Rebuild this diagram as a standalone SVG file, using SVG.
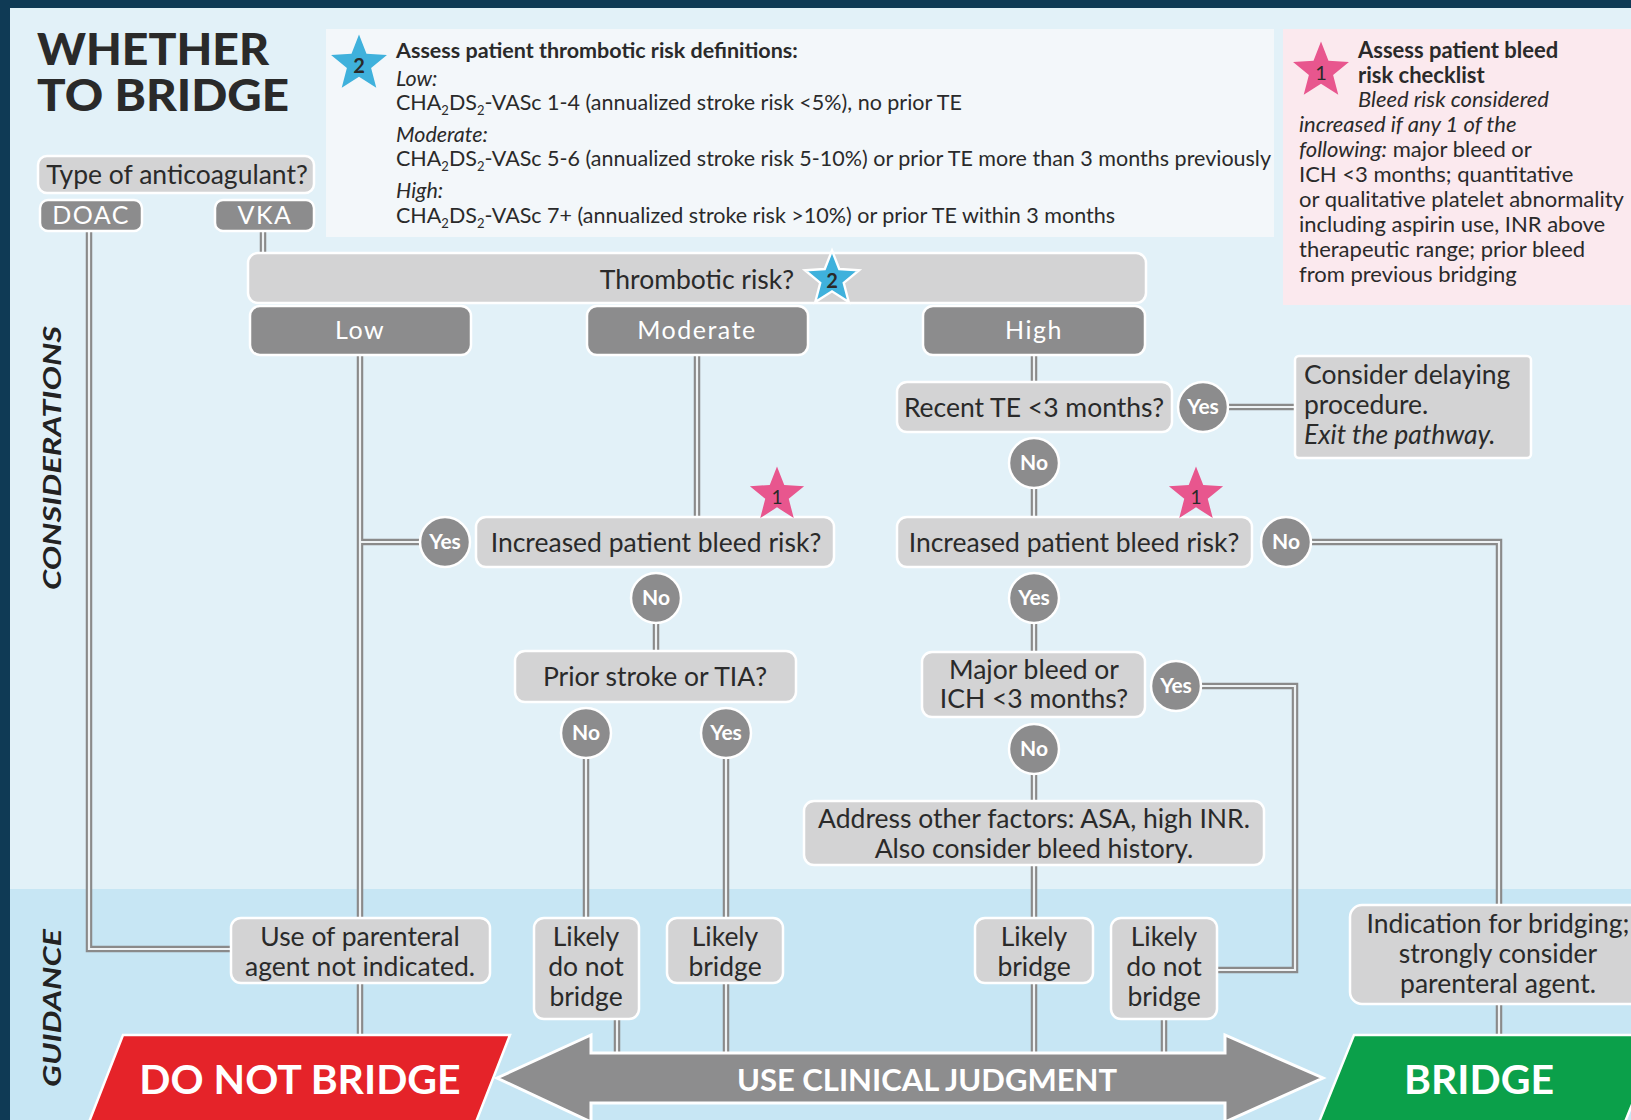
<svg xmlns="http://www.w3.org/2000/svg" xmlns:xlink="http://www.w3.org/1999/xlink" width="1631" height="1120" viewBox="0 0 1631 1120">
<style>
text{font-family:Lato,"Open Sans","Liberation Sans",sans-serif;fill:#2a2a2a}
.q{fill:#d3d3d4;stroke:#fff;stroke-width:2.5}
.d{fill:#8c8c8d;stroke:#fff;stroke-width:2.5}
.g{fill:#d3d3d4;stroke:#fff;stroke-width:2.5}
.t{font-size:26.5px;text-anchor:middle}
.w{font-size:25px;text-anchor:middle;fill:#fff;letter-spacing:1.5px}
.c{fill:#8c8c8d;stroke:#fff;stroke-width:2.5}
.ct{font-size:21px;font-weight:bold;text-anchor:middle;fill:#fff}
.co{fill:none;stroke:#8a8a8a;stroke-width:6.5}
.ci{fill:none;stroke:#eef2f4;stroke-width:2.2}
.info{font-size:21.5px}
.pk{font-size:22px}
.sec{font-size:24px;font-weight:bold;font-style:italic;text-anchor:middle;fill:#222}
.big{font-weight:bold;fill:#fff;text-anchor:middle}
</style>
<defs>
<path id="star" d="M0,-30 L7.64,-10.52 L28.53,-9.27 L12.36,4.02 L17.63,24.27 L0,13 L-17.63,24.27 L-12.36,4.02 L-28.53,-9.27 L-7.64,-10.52 Z"/>
<path id="p1" d="M89,230 V949 H231"/>
<path id="p2" d="M263,230 V253"/>
<path id="p3" d="M360,355 V918"/>
<path id="p4" d="M360,542 H420"/>
<path id="p5" d="M697,355 V517"/>
<path id="p6" d="M656,622 V651"/>
<path id="p7" d="M586,757 V918"/>
<path id="p8" d="M726,757 V918"/>
<path id="p9" d="M617,1019 V1053"/>
<path id="p10" d="M726,983 V1053"/>
<path id="p11" d="M360,983 V1035"/>
<path id="p12" d="M1034,355 V382"/>
<path id="p13" d="M1228,407 H1295"/>
<path id="p14" d="M1034,488 V517"/>
<path id="p15" d="M1034,623 V652"/>
<path id="p16" d="M1034,774 V801"/>
<path id="p17" d="M1034,865 V918"/>
<path id="p18" d="M1034,983 V1053"/>
<path id="p19" d="M1201,686 H1295 V970 H1217"/>
<path id="p20" d="M1164,1019 V1053"/>
<path id="p21" d="M1311,542 H1499 V905"/>
<path id="p22" d="M1499,1004 V1035"/>
</defs>

<!-- background -->
<rect x="0" y="0" width="1631" height="1120" fill="#0f3a55"/>
<rect x="10" y="8" width="1621" height="881" fill="#e2f1f8"/>
<rect x="10" y="889" width="1621" height="231" fill="#c7e6f4"/>

<!-- title and section labels -->
<g id="title">
<text x="37" y="65" font-size="43" font-weight="900" fill="#1e1e1e" textLength="232" lengthAdjust="spacingAndGlyphs">WHETHER</text>
<text x="37" y="111" font-size="43" font-weight="900" fill="#1e1e1e" textLength="252" lengthAdjust="spacingAndGlyphs">TO BRIDGE</text>
</g>
<g id="label-considerations"><text class="sec" transform="translate(61,458) rotate(-90)" textLength="264" lengthAdjust="spacingAndGlyphs">CONSIDERATIONS</text></g>
<g id="label-guidance"><text class="sec" transform="translate(61,1008) rotate(-90)" textLength="158" lengthAdjust="spacingAndGlyphs">GUIDANCE</text></g>

<!-- info box: thrombotic risk definitions -->
<g id="info-thrombotic">
<rect x="326" y="29" width="948" height="208" fill="#f3f7fa"/>
<use href="#star" transform="translate(359,64) scale(0.98)" fill="#3fb1dc"/>
<text x="359" y="73" font-size="20" font-weight="bold" text-anchor="middle" fill="#1a1a1a">2</text>
<text class="info" x="396" y="58" font-weight="bold" font-size="22px">Assess patient thrombotic risk definitions:</text>
<text class="info" x="396" y="86" font-style="italic">Low:</text>
<text class="info" x="396" y="110">CHA<tspan dy="5" font-size="13">2</tspan><tspan dy="-5">DS</tspan><tspan dy="5" font-size="13">2</tspan><tspan dy="-5">-VASc 1-4 (annualized stroke risk &lt;5%), no prior TE</tspan></text>
<text class="info" x="396" y="142" font-style="italic">Moderate:</text>
<text class="info" x="396" y="166">CHA<tspan dy="5" font-size="13">2</tspan><tspan dy="-5">DS</tspan><tspan dy="5" font-size="13">2</tspan><tspan dy="-5">-VASc 5-6 (annualized stroke risk 5-10%) or prior TE more than 3 months previously</tspan></text>
<text class="info" x="396" y="198" font-style="italic">High:</text>
<text class="info" x="396" y="223">CHA<tspan dy="5" font-size="13">2</tspan><tspan dy="-5">DS</tspan><tspan dy="5" font-size="13">2</tspan><tspan dy="-5">-VASc 7+ (annualized stroke risk &gt;10%) or prior TE within 3 months</tspan></text>
</g>

<!-- info box: bleed risk checklist -->
<g id="info-bleed">
<rect x="1283" y="29" width="348" height="276" fill="#fbe9ee"/>
<use href="#star" transform="translate(1321,71) scale(0.98)" fill="#e8568e"/>
<text x="1321" y="80" font-size="20" text-anchor="middle" fill="#fde8ef">1</text>
<text class="pk" x="1358" y="58" font-weight="bold">Assess patient bleed</text>
<text class="pk" x="1358" y="83" font-weight="bold">risk checklist</text>
<text class="pk" x="1358" y="107" font-style="italic">Bleed risk considered</text>
<text class="pk" x="1299" y="132" font-style="italic">increased if any 1 of the</text>
<text class="pk" x="1299" y="157"><tspan font-style="italic">following:</tspan> major bleed or</text>
<text class="pk" x="1299" y="182">ICH &lt;3 months; quantitative</text>
<text class="pk" x="1299" y="207">or qualitative platelet abnormality</text>
<text class="pk" x="1299" y="232">including aspirin use, INR above</text>
<text class="pk" x="1299" y="257">therapeutic range; prior bleed</text>
<text class="pk" x="1299" y="282">from previous bridging</text>
</g>

<!-- connectors -->
<g id="connectors">
<g class="co">
<use href="#p1"/><use href="#p2"/><use href="#p3"/><use href="#p4"/><use href="#p5"/><use href="#p6"/><use href="#p7"/><use href="#p8"/><use href="#p9"/><use href="#p10"/><use href="#p11"/><use href="#p12"/><use href="#p13"/><use href="#p14"/><use href="#p15"/><use href="#p16"/><use href="#p17"/><use href="#p18"/><use href="#p19"/><use href="#p20"/><use href="#p21"/><use href="#p22"/>
</g>
<g class="ci">
<use href="#p1"/><use href="#p2"/><use href="#p3"/><use href="#p4"/><use href="#p5"/><use href="#p6"/><use href="#p7"/><use href="#p8"/><use href="#p9"/><use href="#p10"/><use href="#p11"/><use href="#p12"/><use href="#p13"/><use href="#p14"/><use href="#p15"/><use href="#p16"/><use href="#p17"/><use href="#p18"/><use href="#p19"/><use href="#p20"/><use href="#p21"/><use href="#p22"/>
</g>
</g>

<!-- top question -->
<g id="n-type"><rect class="q" x="38" y="156" width="276" height="37" rx="9"/><text class="t" x="177" y="184">Type of anticoagulant?</text></g>
<g id="n-doac"><rect class="d" x="40" y="200" width="102" height="31" rx="8"/><text class="w" x="91" y="224">DOAC</text></g>
<g id="n-vka"><rect class="d" x="215" y="200" width="99" height="31" rx="8"/><text class="w" x="265" y="224">VKA</text></g>

<g id="n-thrombotic"><rect class="q" x="248" y="253" width="898" height="50" rx="10"/><text class="t" x="697" y="289">Thrombotic risk?</text>
<use href="#star" transform="translate(832,279) scale(0.95)" fill="#3fb1dc" stroke="#fff" stroke-width="2.5"/>
<text x="832" y="288" font-size="20" font-weight="bold" text-anchor="middle" fill="#1a1a1a">2</text></g>

<g id="n-low"><rect class="d" x="250" y="306" width="221" height="49" rx="10"/><text class="w" x="360" y="339">Low</text></g>
<g id="n-moderate"><rect class="d" x="587" y="306" width="221" height="49" rx="10"/><text class="w" x="697" y="339">Moderate</text></g>
<g id="n-high"><rect class="d" x="923" y="306" width="222" height="49" rx="10"/><text class="w" x="1034" y="339">High</text></g>

<!-- moderate branch -->
<g id="n-bleed-left"><rect class="q" x="476" y="517" width="358" height="50" rx="10"/><text class="t" x="656" y="552">Increased patient bleed risk?</text>
<use href="#star" transform="translate(777,495) scale(0.95)" fill="#e8568e"/>
<text x="777" y="504" font-size="19" text-anchor="middle" fill="#fde8ef">1</text></g>
<g id="c-yes-left"><circle class="c" cx="445" cy="542" r="25"/><text class="ct" x="445" y="549">Yes</text></g>
<g id="c-no-left"><circle class="c" cx="656" cy="598" r="25"/><text class="ct" x="656" y="605">No</text></g>
<g id="n-prior"><rect class="q" x="515" y="651" width="281" height="51" rx="10"/><text class="t" x="655" y="686">Prior stroke or TIA?</text></g>
<g id="c-prior-no"><circle class="c" cx="586" cy="733" r="25"/><text class="ct" x="586" y="740">No</text></g>
<g id="c-prior-yes"><circle class="c" cx="726" cy="733" r="25"/><text class="ct" x="726" y="740">Yes</text></g>

<!-- high branch -->
<g id="n-recent"><rect class="q" x="897" y="382" width="275" height="50" rx="10"/><text class="t" x="1034" y="417">Recent TE &lt;3 months?</text></g>
<g id="c-recent-yes"><circle class="c" cx="1203" cy="407" r="25"/><text class="ct" x="1203" y="414">Yes</text></g>
<g id="n-delay"><rect class="g" x="1295" y="356" width="236" height="102" rx="4"/>
<text x="1304" y="384" font-size="26.5">Consider delaying</text>
<text x="1304" y="414" font-size="26.5">procedure.</text>
<text x="1304" y="444" font-size="26.5" font-style="italic">Exit the pathway.</text></g>
<g id="c-recent-no"><circle class="c" cx="1034" cy="463" r="25"/><text class="ct" x="1034" y="470">No</text></g>
<g id="n-bleed-right"><rect class="q" x="897" y="517" width="355" height="50" rx="10"/><text class="t" x="1074" y="552">Increased patient bleed risk?</text>
<use href="#star" transform="translate(1196,495) scale(0.95)" fill="#e8568e"/>
<text x="1196" y="504" font-size="19" text-anchor="middle" fill="#fde8ef">1</text></g>
<g id="c-bleed-no"><circle class="c" cx="1286" cy="542" r="25"/><text class="ct" x="1286" y="549">No</text></g>
<g id="c-bleed-yes"><circle class="c" cx="1034" cy="598" r="25"/><text class="ct" x="1034" y="605">Yes</text></g>
<g id="n-major"><rect class="q" x="922" y="652" width="223" height="65" rx="10"/><text class="t" x="1034" y="679">Major bleed or</text><text class="t" x="1034" y="708">ICH &lt;3 months?</text></g>
<g id="c-major-yes"><circle class="c" cx="1176" cy="686" r="25"/><text class="ct" x="1176" y="693">Yes</text></g>
<g id="c-major-no"><circle class="c" cx="1034" cy="749" r="25"/><text class="ct" x="1034" y="756">No</text></g>
<g id="n-address"><rect class="q" x="804" y="801" width="460" height="64" rx="10"/><text class="t" x="1034" y="828">Address other factors: ASA, high INR.</text><text class="t" x="1034" y="858">Also consider bleed history.</text></g>

<!-- guidance boxes -->
<g id="g-parenteral"><rect class="g" x="231" y="918" width="259" height="65" rx="10"/><text class="t" x="360" y="946">Use of parenteral</text><text class="t" x="360" y="976">agent not indicated.</text></g>
<g id="g-likely-not-left"><rect class="g" x="534" y="918" width="105" height="101" rx="10"/><text class="t" x="586" y="946">Likely</text><text class="t" x="586" y="976">do not</text><text class="t" x="586" y="1006">bridge</text></g>
<g id="g-likely-left"><rect class="g" x="667" y="918" width="116" height="65" rx="10"/><text class="t" x="725" y="946">Likely</text><text class="t" x="725" y="976">bridge</text></g>
<g id="g-likely-right"><rect class="g" x="975" y="918" width="118" height="65" rx="10"/><text class="t" x="1034" y="946">Likely</text><text class="t" x="1034" y="976">bridge</text></g>
<g id="g-likely-not-right"><rect class="g" x="1111" y="918" width="106" height="101" rx="10"/><text class="t" x="1164" y="946">Likely</text><text class="t" x="1164" y="976">do not</text><text class="t" x="1164" y="1006">bridge</text></g>
<g id="g-indication"><rect class="g" x="1350" y="905" width="300" height="99" rx="12"/><text class="t" x="1498" y="933">Indication for bridging;</text><text class="t" x="1498" y="963">strongly consider</text><text class="t" x="1498" y="993">parenteral agent.</text></g>

<!-- bottom outcomes -->
<g id="o-judgment"><path d="M497,1078 L591,1035 L591,1053 L1225,1053 L1225,1035 L1323,1078 L1225,1122 L1225,1103 L591,1103 L591,1122 Z" fill="#8d8d8e" stroke="#fff" stroke-width="3"/>
<text class="big" x="927" y="1091" font-size="31">USE CLINICAL JUDGMENT</text></g>
<g id="o-donot"><path d="M123,1035 L510,1035 L476,1122 L89,1122 Z" fill="#e52329" stroke="#fff" stroke-width="2.5"/>
<text class="big" x="300" y="1094" font-size="41">DO NOT BRIDGE</text></g>
<g id="o-bridge"><path d="M1354,1035 L1660,1035 L1625,1122 L1319,1122 Z" fill="#0ba04a" stroke="#fff" stroke-width="2.5"/>
<text class="big" x="1479" y="1094" font-size="41">BRIDGE</text></g>
</svg>
